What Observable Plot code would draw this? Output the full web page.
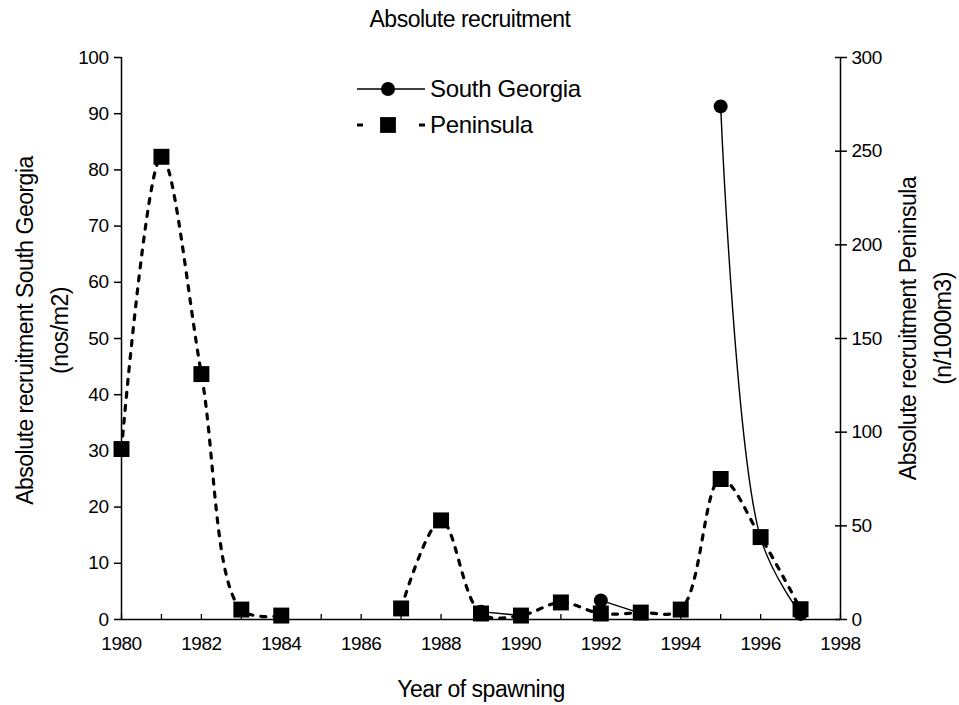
<!DOCTYPE html>
<html><head><meta charset="utf-8">
<script src="https://cdn.jsdelivr.net/npm/d3@7"></script>
<script src="https://cdn.jsdelivr.net/npm/@observablehq/plot@0.6"></script>
<style>
body{margin:0;background:#fff;}
#wrap{position:relative;width:959px;height:705px;font-family:"Liberation Sans",Arial,sans-serif;}
#legend{position:absolute;left:350px;top:70px;}
#legend text{font-family:"Liberation Sans",Arial,sans-serif;font-size:24px;letter-spacing:-0.3px;}
</style></head><body><div id="wrap"></div>
<script>
const years = [1980,1981,1982,1983,1984,1985,1986,1987,1988,1989,1990,1991,1992,1993,1994,1995,1996,1997];
// Peninsula, right axis (n/1000m3)
const peninsula = [91,247,131,5.3,2.1,null,null,5.9,52.9,3.2,2.1,9.1,3.2,3.7,5.3,75,44,5.5];
// South Georgia, left axis (nos/m2)
const southGeorgia = [null,null,null,null,null,null,null,null,null,1.4,0.7,null,3.4,1.1,null,91.3,14.5,1.0];
const leftTicks = [0,10,20,30,40,50,60,70,80,90,100];
const rightTicks = [0,50,100,150,200,250,300];
const xLabelTicks = [1980,1982,1984,1986,1988,1990,1992,1994,1996,1998];
const xMinorTicks = [1980,1981,1982,1983,1984,1985,1986,1987,1988,1989,1990,1991,1992,1993,1994,1995,1996,1997,1998];
const ratio = 3;

const table = years.map((year, i) => ({
  year,
  pen: peninsula[i] == null ? NaN : peninsula[i] / ratio,
  sg: southGeorgia[i] == null ? NaN : southGeorgia[i]
}));
const penPts = table.filter(d => !isNaN(d.pen));
const sgPts = table.filter(d => !isNaN(d.sg));

const font = "Liberation Sans, Arial, sans-serif";
const chart = Plot.plot({
  width: 959, height: 705,
  marginLeft: 121, marginRight: 119, marginTop: 57, marginBottom: 86,
  style: {fontFamily: font, fontSize: "19px", color: "black", background: "white", letterSpacing: "-0.5px"},
  x: {domain: [1980, 1998], axis: null},
  y: {domain: [0, 100], axis: null},
  marks: [
    Plot.line(table, {x: "year", y: "pen", curve: "catmull-rom", stroke: "black", strokeWidth: 3.2, strokeDasharray: "5,8"}),
    Plot.line(table, {x: "year", y: "sg", curve: "catmull-rom", stroke: "black", strokeWidth: 1.4}),
    Plot.dot(penPts, {x: "year", y: "pen", symbol: "square", r: 9, fill: "black"}),
    Plot.dot(sgPts, {x: "year", y: "sg", symbol: "circle", r: 7, fill: "black"}),
    Plot.ruleX([1980], {stroke: "black", strokeWidth: 1.5}),
    Plot.ruleX([1998], {stroke: "black", strokeWidth: 1.5}),
    Plot.ruleY([0], {stroke: "black", strokeWidth: 1.5}),
    Plot.axisY(leftTicks, {anchor: "left", tickSize: 7, tickPadding: 6, fontSize: 19, label: null, strokeWidth: 1.5}),
    Plot.axisY(rightTicks.map(v => v / ratio), {anchor: "right", tickSize: 6, tickPadding: 5, fontSize: 19, label: null, tickFormat: d => String(Math.round(d * ratio)), strokeWidth: 1.5}),
    Plot.axisY(rightTicks.map(v => v / ratio), {anchor: "right", tickSize: -6, tickFormat: () => "", label: null, strokeWidth: 1.5}),
    Plot.axisX(xLabelTicks, {anchor: "bottom", tickSize: 0, tickPadding: 17, fontSize: 19, tickFormat: d => String(d), label: null}),
    Plot.axisX(xMinorTicks, {anchor: "bottom", tickSize: -5, tickFormat: () => "", label: null, strokeWidth: 1.3}),
    Plot.text(["Absolute recruitment South Georgia\n(nos/m2)"], {frameAnchor: "left", textAnchor: "middle", rotate: -90, dx: -82, dy: -8, fontSize: 23, lineHeight: 1.52, letterSpacing: "0px"}),
    Plot.text(["Absolute recruitment Peninsula\n(n/1000m3)"], {frameAnchor: "right", textAnchor: "middle", rotate: -90, dx: 82, dy: -10, fontSize: 23, lineHeight: 1.52}),
    Plot.text(["Year of spawning"], {frameAnchor: "bottom", dy: 77, fontSize: 23}),
    Plot.text(["Absolute recruitment"], {frameAnchor: "top", dx: -11, dy: -47, fontSize: 23})
  ]
});
const wrap = document.getElementById("wrap");
wrap.appendChild(chart);

// Legend
const legendRows = [
  {name: "South Georgia", symbol: d3.symbolCircle, dashed: false},
  {name: "Peninsula", symbol: d3.symbolSquare, dashed: true}
];
const lg = d3.create("svg").attr("id", "legend").attr("width", 260).attr("height", 75);
legendRows.forEach((row, i) => {
  const g = lg.append("g").attr("transform", `translate(0,${19 + i * 36})`);
  if (row.dashed) {
    g.append("line").attr("x1", 7).attr("x2", 75).attr("stroke", "black").attr("stroke-width", 3.2).attr("stroke-dasharray", "6,56");
  } else {
    g.append("line").attr("x1", 7).attr("x2", 75).attr("stroke", "black").attr("stroke-width", 1.4);
  }
  g.append("path").attr("transform", "translate(38,0)").attr("d", d3.symbol(row.symbol, row.dashed ? 250 : 155)()).attr("fill", "black");
  g.append("text").attr("x", 80).attr("dy", "0.35em").text(row.name);
});
wrap.appendChild(lg.node());
</script>
</body></html>
